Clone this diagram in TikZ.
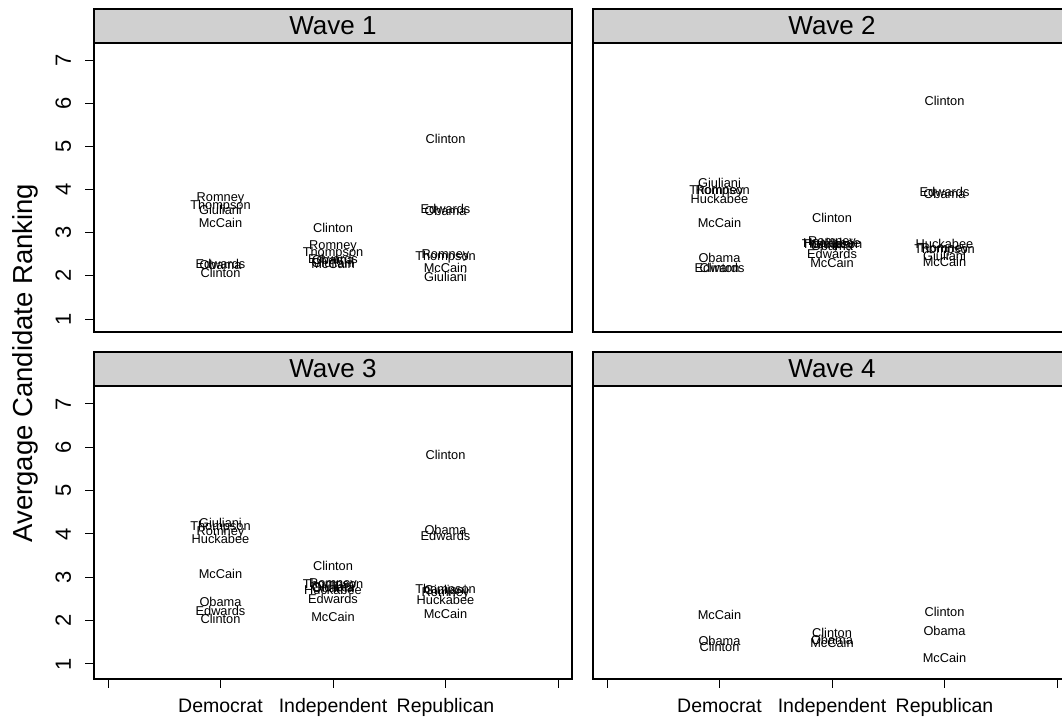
\documentclass[tikz,border=0pt]{standalone}
\usepackage{fontspec}
\setmainfont{Liberation Sans}

\tikzset{
  cand/.style={font=\fontsize{12.8}{14}\selectfont, inner sep=0pt, text height=9.2pt, text depth=0pt},
  striptitle/.style={font=\fontsize{26}{30}\selectfont},
  ticklab/.style={font=\fontsize{19.5}{22}\selectfont, inner sep=0pt},
  ylab/.style={font=\fontsize{22}{24}\selectfont, inner sep=0pt, text height=15.8pt, text depth=0pt},
  frame/.style={draw=black, line width=1.4pt},
}

\begin{document}
\begin{tikzpicture}[x=1pt, y=1pt]
\useasboundingbox (0,0) rectangle (1062,-720);

% panel frames and strips
\foreach \w/\px/\py/\ph in {1/94/0/289, 2/593/0/289, 3/94/-343/293, 4/593/-343/293}{
  \filldraw[frame, fill={rgb,255:red,208;green,208;blue,208}] (\px,\py-9) rectangle ++(478,-34);
  \draw[frame] (\px,\py-43) rectangle ++(478,-\ph);
  \node[striptitle] (strip-\w) at (\px+239,\py-26) {Wave \w};
}

% y axis, left column
\begin{scope}[shift={(108,-362.2)}, x=112.5pt, y=43.17pt]
\foreach \v in {1,...,7}{
  \draw[line width=1pt] (-0.125,\v) -- ++(-9pt,0);
  \node[ylab, rotate=90] (ytop-\v) at (-0.4,\v) {\v};
}
\end{scope}
\begin{scope}[shift={(108,-707.3)}, x=112.5pt, y=43.33pt]
\foreach \v in {1,...,7}{
  \draw[line width=1pt] (-0.125,\v) -- ++(-9pt,0);
  \node[ylab, rotate=90] (ybot-\v) at (-0.4,\v) {\v};
}
\end{scope}

% x axis, bottom row
\foreach \ox/\c in {108/l, 607/r}{
  \foreach \i in {0,...,4}
    \draw[line width=1pt] (\ox+112.5*\i,-679) -- ++(0,-9);
  \foreach \i/\party in {1/Democrat, 2/Independent, 3/Republican}
    \node[ticklab, anchor=base] (x\c-\i) at (\ox+112.5*\i,-712) {\party};
}

\node[font=\fontsize{27.5}{30}\selectfont, rotate=90] (ytitle) at (25,-363) {Avergage Candidate Ranking};

% Wave 1
\begin{scope}[shift={(108,-362.2)}, x=112.5pt, y=43.17pt]
\foreach \lab/\gx/\gy in {Romney/1/3.83, Thompson/1/3.64, Giuliani/1/3.52, McCain/1/3.22,
    Edwards/1/2.27, Obama/1/2.25, Clinton/1/2.06,
    Clinton/2/3.1, Romney/2/2.71, Thompson/2/2.56, Edwards/2/2.4, Obama/2/2.36,
    Giuliani/2/2.3, McCain/2/2.28,
    Clinton/3/5.17, Edwards/3/3.55, Obama/3/3.5, Romney/3/2.5, Thompson/3/2.46,
    McCain/3/2.18, Giuliani/3/1.97}
  \node[cand] (w1-\lab-\gx) at (\gx,\gy) {\lab};
\end{scope}

% Wave 2
\begin{scope}[shift={(607,-362.2)}, x=112.5pt, y=43.17pt]
\foreach \lab/\gx/\gy in {Giuliani/1/4.15, Thompson/1/3.98, Romney/1/3.98, Huckabee/1/3.79,
    McCain/1/3.22, Obama/1/2.41, Edwards/1/2.19, Clinton/1/2.18,
    Clinton/2/3.34, Romney/2/2.8, Huckabee/2/2.76, Thompson/2/2.74, Giuliani/2/2.74,
    Obama/2/2.7, Edwards/2/2.52, McCain/2/2.3,
    Clinton/3/6.05, Edwards/3/3.94, Obama/3/3.91, Huckabee/3/2.73, Romney/3/2.65,
    Thompson/3/2.62, Giuliani/3/2.46, McCain/3/2.33}
  \node[cand] (w2-\lab-\gx) at (\gx,\gy) {\lab};
\end{scope}

% Wave 3
\begin{scope}[shift={(108,-707.3)}, x=112.5pt, y=43.33pt]
\foreach \lab/\gx/\gy in {Giuliani/1/4.25, Thompson/1/4.18, Romney/1/4.08, Huckabee/1/3.88,
    McCain/1/3.08, Obama/1/2.43, Edwards/1/2.22, Clinton/1/2.04,
    Clinton/2/3.26, Romney/2/2.88, Thompson/2/2.84, Giuliani/2/2.79, Obama/2/2.76,
    Huckabee/2/2.72, Edwards/2/2.5, McCain/2/2.08,
    Clinton/3/5.82, Obama/3/4.09, Edwards/3/3.95, Thompson/3/2.73, Giuliani/3/2.7,
    Romney/3/2.67, Huckabee/3/2.48, McCain/3/2.15}
  \node[cand] (w3-\lab-\gx) at (\gx,\gy) {\lab};
\end{scope}

% Wave 4
\begin{scope}[shift={(607,-707.3)}, x=112.5pt, y=43.33pt]
\foreach \lab/\gx/\gy in {McCain/1/2.13, Obama/1/1.53, Clinton/1/1.39,
    Clinton/2/1.72, Obama/2/1.55, McCain/2/1.48,
    Clinton/3/2.2, Obama/3/1.76, McCain/3/1.14}
  \node[cand] (w4-\lab-\gx) at (\gx,\gy) {\lab};
\end{scope}

\end{tikzpicture}
\end{document}
